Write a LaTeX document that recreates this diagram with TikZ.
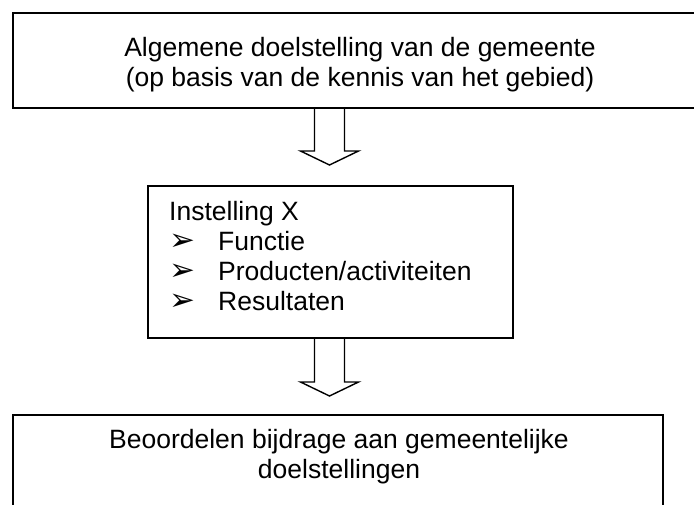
\documentclass[tikz,border=0pt]{standalone}
\usepackage{fontspec}
\usetikzlibrary{calc}
\setmainfont{Liberation Sans}
\newfontfamily\symfont{DejaVu Sans}
\newcommand{\bul}{\makebox[49pt][l]{\smash{\symfont\fontsize{31}{31}\selectfont ➢}}}
\tikzset{
  box/.style={draw, line width=1.8pt, inner sep=0pt, anchor=north west},
  blockarrow/.style={draw, line width=1.4pt, line join=miter},
  txt/.style={inner sep=0pt, font=\fontsize{26.5}{30}\selectfont}
}
\begin{document}
\begin{tikzpicture}[x=1pt,y=-1pt]
\useasboundingbox (0,0) rectangle (694,504);
\clip (0,0) rectangle (694,504);
% boxes
\node[box, minimum width=700pt, minimum height=95pt] (top) at (12,12) {};
\node[box, minimum width=365pt, minimum height=152pt] (mid) at (147,185) {};
\node[box, minimum width=650pt, minimum height=110pt] (bot) at (12,414) {};
% texts (base anchor = baseline of the last line)
\node[txt, align=center, anchor=base] (toptext) at (360,86)
  {Algemene doelstelling van de gemeente\\(op basis van de kennis van het gebied)};
\node[txt, align=left, anchor=base west] (midtext) at (169,310)
  {Instelling X\\\bul Functie\\\bul Producten/activiteiten\\\bul Resultaten};
\node[txt, align=center, anchor=base] (bottext) at (339,478)
  {Beoordelen bijdrage aan gemeentelijke\\doelstellingen};
% block arrows
\coordinate (a1) at (329.5,107);
\coordinate (a2) at (329.5,337);
\draw[blockarrow] ($(a1)+(-15,0)$) -- ++(0,44) -- ++(-14,0) -- ($(a1)+(0,58)$)
  -- ($(a1)+(29,44)$) -- ++(-14,0) -- ($(a1)+(15,0)$);
\draw[blockarrow] ($(a2)+(-15,0)$) -- ++(0,45) -- ++(-14,0) -- ($(a2)+(0,59)$)
  -- ($(a2)+(29,45)$) -- ++(-14,0) -- ($(a2)+(15,0)$);
\end{tikzpicture}
\end{document}
